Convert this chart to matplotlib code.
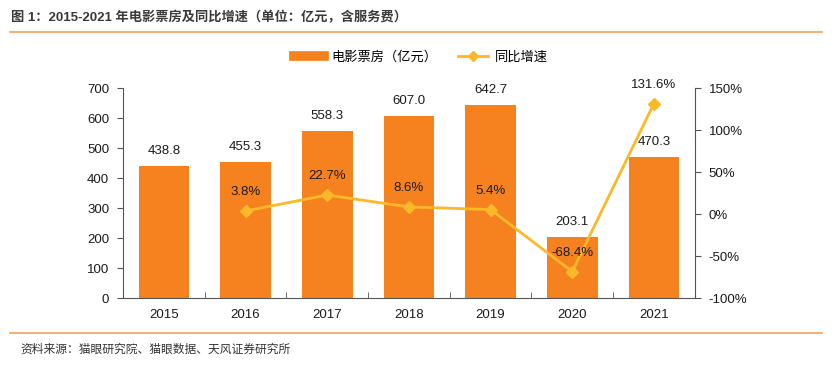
import matplotlib.pyplot as plt
from matplotlib import ticker
from matplotlib.lines import Line2D

plt.rcParams['font.family'] = ['Liberation Sans', 'Noto Sans CJK SC', 'DejaVu Sans']
plt.rcParams['axes.unicode_minus'] = False

#%% data
years = ["2015", "2016", "2017", "2018", "2019", "2020", "2021"]
box_office = [438.8, 455.3, 558.3, 607.0, 642.7, 203.1, 470.3]
growth_years = ["2016", "2017", "2018", "2019", "2020", "2021"]
growth = [3.8, 22.7, 8.6, 5.4, -68.4, 131.6]

bar_color = "#F5821F"
line_color = "#FBB829"
text_color = "#1a1a1a"

#%% figure
fig = plt.figure(figsize=(8.32, 3.75), dpi=100)
ax = fig.add_axes([0.148, 0.205, 0.687, 0.56])
ax2 = ax.twinx()

x = list(range(len(years)))
ax.bar(x, box_office, width=0.62, color=bar_color, zorder=2)
for xi, v in zip(x, box_office):
    ax.text(xi, v + 30, f"{v:.1f}", ha="center", va="bottom", fontsize=9.5, color=text_color)

gx = [years.index(y) for y in growth_years]
ax2.plot(gx, growth, color=line_color, lw=2, marker="D", ms=6, zorder=3)
for xi, v in zip(gx, growth):
    ax2.text(xi, v + 15, f"{v:.1f}%", ha="center", va="bottom", fontsize=9.5, color=text_color)

ax.set_xlim(-0.5, len(years) - 0.5)
ax.set_ylim(0, 700)
ax.set_yticks(range(0, 701, 100))
ax2.set_ylim(-100, 150)
ax2.set_yticks(range(-100, 151, 50))
ax2.yaxis.set_major_formatter(ticker.FuncFormatter(lambda v, p: f"{v:.0f}%"))

ax.set_xticks(x)
ax.set_xticklabels(years)
ax.set_xticks([i + 0.5 for i in x[:-1]], minor=True)
ax.tick_params(axis="x", which="major", length=0, labelsize=9.5, pad=8, colors=text_color)
ax.tick_params(axis="x", which="minor", direction="in", length=4, color="#555555")
ax.tick_params(axis="y", length=4, labelsize=9.5, colors=text_color, color="#555555", pad=6)
ax2.tick_params(axis="y", length=4, labelsize=9.5, colors=text_color, color="#555555", pad=6)

for a in (ax, ax2):
    a.spines["top"].set_visible(False)
    for s in ("left", "right", "bottom"):
        a.spines[s].set_color("#555555")
ax.spines["right"].set_visible(False)
ax2.spines["left"].set_visible(False)
ax2.spines["bottom"].set_visible(False)
ax.set_zorder(ax2.get_zorder() - 1)
ax.patch.set_visible(False)

handles = [Line2D([], [], color=bar_color, lw=7),
           Line2D([], [], color=line_color, lw=2, marker="D", ms=5)]
fig.legend(handles, ["电影票房（亿元）", "同比增速"], loc="center", bbox_to_anchor=(0.506, 0.848),
           ncol=2, frameon=False, fontsize=9.5, handlelength=2.3, handletextpad=0.5,
           columnspacing=1.6)

#%% title / source
fig.text(0.013, 0.952, "图 1：2015-2021 年电影票房及同比增速（单位：亿元，含服务费）",
         fontsize=9.5, fontweight="bold", color="#3a3a3a", va="center")
fig.add_artist(Line2D([0.012, 0.988], [0.915, 0.915], color="#F7A05A", lw=1.2))
fig.add_artist(Line2D([0.012, 0.988], [0.112, 0.112], color="#F7A05A", lw=1.2))
fig.text(0.025, 0.068, "资料来源：猫眼研究院、猫眼数据、天风证券研究所", fontsize=8.5, color="#333333", va="center")

fig.savefig("out.png", dpi=100)
